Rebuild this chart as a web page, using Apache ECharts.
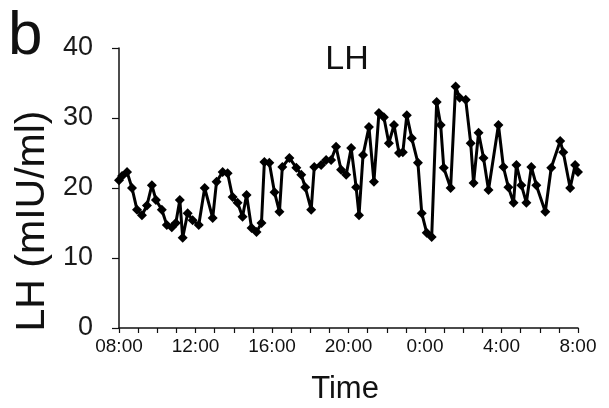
<!DOCTYPE html>
<html>
<head>
<meta charset="utf-8">
<script src="https://cdn.jsdelivr.net/npm/echarts@6/dist/echarts.min.js"></script>
<style>
html,body{margin:0;padding:0;background:#fff;}
#c{width:609px;height:408px;}
</style>
</head>
<body>
<div id="c"></div>
<script>
// hours since 08:00
const hours = [0.00,0.16,0.42,0.68,0.94,1.20,1.46,1.72,1.93,2.24,2.50,2.76,2.97,3.18,3.33,3.59,3.85,4.17,4.48,4.90,5.10,5.42,5.68,5.94,6.20,6.46,6.67,6.93,7.19,7.45,7.60,7.86,8.13,8.39,8.54,8.91,9.27,9.53,9.74,10.05,10.21,10.57,10.83,11.09,11.35,11.61,11.88,12.14,12.40,12.55,12.76,13.07,13.33,13.59,13.85,14.11,14.38,14.64,14.84,15.05,15.31,15.63,15.83,16.09,16.35,16.61,16.82,16.98,17.34,17.60,17.81,18.13,18.39,18.54,18.80,19.06,19.32,19.84,20.10,20.36,20.63,20.78,21.04,21.30,21.56,21.82,22.29,22.60,23.07,23.23,23.59,23.85,24.00];
const lhValues = [21.1,21.7,22.3,20.0,16.9,16.1,17.5,20.4,18.3,16.9,14.7,14.4,15.0,18.3,12.9,16.4,15.4,14.7,20.0,15.7,20.9,22.3,22.1,18.7,17.9,15.9,19.0,14.3,13.7,15.0,23.7,23.6,19.4,16.6,23.0,24.3,22.9,21.9,20.1,16.9,23.0,23.3,24.0,24.0,25.9,22.6,21.9,25.7,20.1,16.1,24.7,28.7,20.9,30.7,30.1,26.4,29.0,25.0,25.1,30.4,27.1,23.6,16.4,13.6,13.0,32.3,29.0,22.9,20.0,34.5,32.9,32.6,26.4,20.7,27.9,24.3,19.7,29.0,23.0,20.1,17.9,23.3,20.4,17.9,23.0,20.4,16.6,22.9,26.7,25.1,20.0,23.3,22.3];
const xTickLabels = ['08:00','12:00','16:00','20:00','0:00','4:00','8:00'];
const yTicks = [0,10,20,30,40];

const FONT = 'Liberation Sans, Arial, Helvetica, sans-serif';
const data = hours.map((h,i)=>[h, lhValues[i]]);

const chart = echarts.init(document.getElementById('c'), null, {renderer:'canvas'});
chart.setOption({
  animation:false,
  backgroundColor:'#fff',
  grid:{left:119, right:31, top:48, bottom:80, containLabel:false},
  xAxis:{
    type:'value', min:0, max:24, interval:1,
    axisLine:{show:true, lineStyle:{color:'#111', width:1.5}},
    axisTick:{show:true, length:5, lineStyle:{color:'#111', width:1.2}},
    splitLine:{show:false},
    axisLabel:{
      margin:9, color:'#111', fontSize:19, fontFamily:FONT,
      formatter:(v)=> (v%4===0 ? xTickLabels[v/4] : ''),
      showMinLabel:true, showMaxLabel:true, hideOverlap:false
    }
  },
  yAxis:{
    type:'value', min:yTicks[0], max:yTicks[yTicks.length-1], interval:10,
    axisLine:{show:true, lineStyle:{color:'#111', width:1.5}},
    axisTick:{show:true, inside:false, length:7, lineStyle:{color:'#111', width:1.2}},
    splitLine:{show:false},
    axisLabel:{margin:26, color:'#1a1a1a', fontSize:27, fontFamily:FONT}
  },
  graphic:[
    {type:'text', left:8, top:6, style:{text:'b', font:'62px '+FONT, fill:'#111'}},
    {type:'text', x:347, y:60, style:{text:'LH', font:'34px '+FONT, fill:'#111', textAlign:'center', textVerticalAlign:'middle'}},
    {type:'text', x:33, y:221, rotation:Math.PI/2, style:{text:'LH (mIU/ml)', font:'41px '+FONT, fill:'#111', textAlign:'center', textVerticalAlign:'middle'}},
    {type:'text', x:345, y:389, style:{text:'Time', font:'31px '+FONT, fill:'#111', textAlign:'center', textVerticalAlign:'middle'}}
  ],
  series:[{
    type:'line',
    data:data,
    lineStyle:{color:'#000', width:3},
    itemStyle:{color:'#000'},
    symbol:'diamond',
    symbolSize:10,
    showAllSymbol:true,
    clip:false
  }]
});
</script>
</body>
</html>
